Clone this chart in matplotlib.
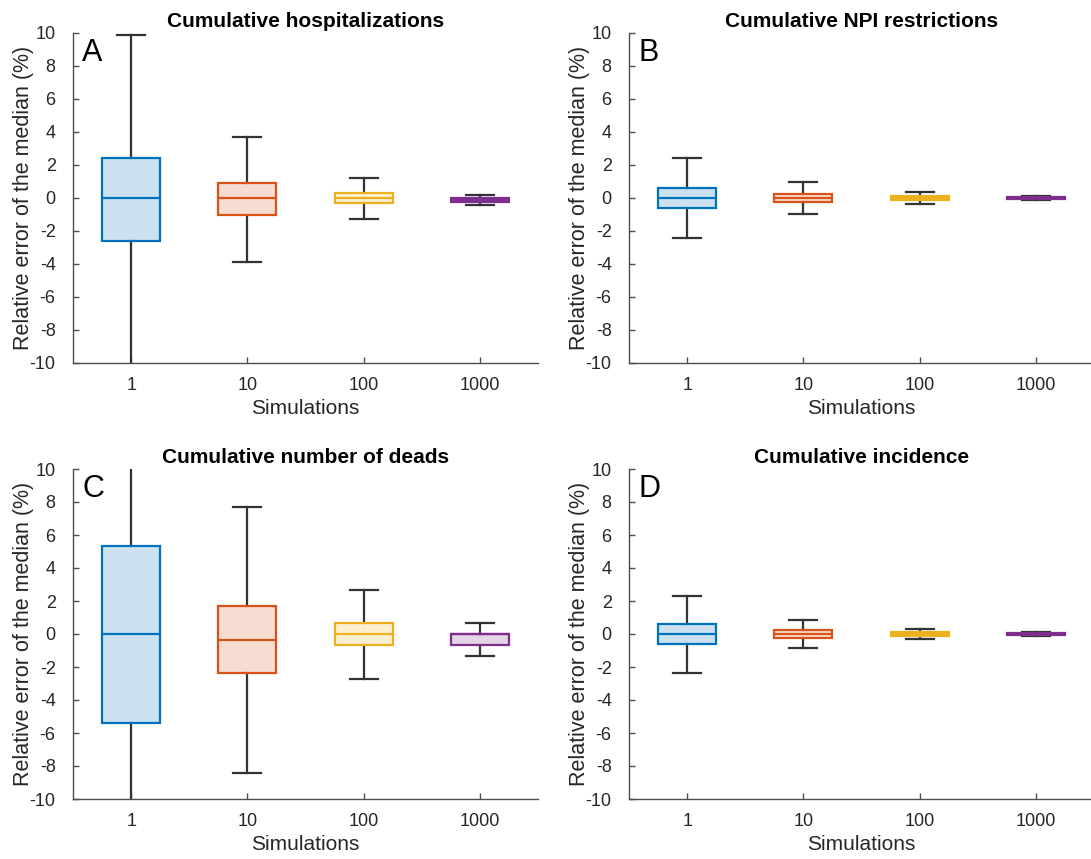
import matplotlib
matplotlib.use("Agg")
import matplotlib.pyplot as plt
import matplotlib.colors as mcolors

plt.rcParams['font.family'] = ['Liberation Sans', 'DejaVu Sans']
plt.rcParams['axes.unicode_minus'] = False

# simulations per run (x categories)
sims = ["1", "10", "100", "1000"]
colors = ["#0072BD", "#D95319", "#EDB120", "#7E2F8E"]

titles = ["Cumulative hospitalizations", "Cumulative NPI restrictions",
          "Cumulative number of deads", "Cumulative incidence"]
letters = ["A", "B", "C", "D"]

# box statistics per panel, one value per sims category
hosp_med = [0.0, 0.0, 0.0, -0.1]
hosp_q1 = [-2.63, -1.05, -0.32, -0.24]
hosp_q3 = [2.44, 0.91, 0.30, 0.02]
hosp_lo = [-10.4, -3.86, -1.25, -0.42]
hosp_hi = [9.9, 3.72, 1.19, 0.20]

npi_med = [0.0, 0.0, 0.0, 0.0]
npi_q1 = [-0.61, -0.24, -0.10, -0.05]
npi_q3 = [0.61, 0.24, 0.10, 0.05]
npi_lo = [-2.40, -0.97, -0.34, -0.12]
npi_hi = [2.44, 0.95, 0.34, 0.12]

dead_med = [0.0, -0.36, 0.0, 0.0]
dead_q1 = [-5.39, -2.36, -0.67, -0.67]
dead_q3 = [5.35, 1.68, 0.67, 0.0]
dead_lo = [-10.8, -8.40, -2.71, -1.35]
dead_hi = [10.8, 7.72, 2.69, 0.67]

inc_med = [0.0, 0.0, 0.0, 0.0]
inc_q1 = [-0.63, -0.24, -0.12, -0.05]
inc_q3 = [0.59, 0.24, 0.10, 0.05]
inc_lo = [-2.34, -0.87, -0.30, -0.10]
inc_hi = [2.32, 0.85, 0.28, 0.10]

panels = [
    (hosp_med, hosp_q1, hosp_q3, hosp_lo, hosp_hi),
    (npi_med, npi_q1, npi_q3, npi_lo, npi_hi),
    (dead_med, dead_q1, dead_q3, dead_lo, dead_hi),
    (inc_med, inc_q1, inc_q3, inc_lo, inc_hi),
]

W, H = 1091, 859
fig = plt.figure(figsize=(W / 100, H / 100), dpi=100)

# axes boxes in pixels: left, top, right, bottom
boxes_px = [(73, 33, 538, 363), (629, 33, 1094, 363),
            (73, 469, 538, 799), (629, 469, 1094, 799)]

axcol = "#4d4d4d"
txtcol = "#262626"

for i, (l, t, r, b) in enumerate(boxes_px):
    ax = fig.add_axes([l / W, (H - b) / H, (r - l) / W, (b - t) / H])
    med, q1, q3, lo, hi = panels[i]
    stats = []
    for k in range(len(sims)):
        stats.append(dict(med=med[k], q1=q1[k], q3=q3[k], whislo=lo[k], whishi=hi[k], fliers=[]))
    bp = ax.bxp(stats, positions=range(1, 5), widths=0.5, patch_artist=True,
                showfliers=False, capwidths=0.24)
    for k, c in enumerate(colors):
        bp['boxes'][k].set_facecolor(mcolors.to_rgba(c, 0.2))
        bp['boxes'][k].set_edgecolor(c)
        bp['boxes'][k].set_linewidth(1.6)
        bp['boxes'][k].set_zorder(3)
        bp['medians'][k].set_color(c)
        bp['medians'][k].set_linewidth(1.6)
        bp['medians'][k].set_zorder(4)
    for ln in bp['whiskers'] + bp['caps']:
        ln.set_color("#333333")
        ln.set_linewidth(1.6)
        ln.set_zorder(2)

    ax.set_xlim(0.5, 4.5)
    ax.set_ylim(-10, 10)
    ax.set_yticks(range(-10, 11, 2))
    ax.set_xticks(range(1, 5))
    ax.set_xticklabels(sims)
    for s in ["top", "right"]:
        ax.spines[s].set_visible(False)
    for s in ["left", "bottom"]:
        ax.spines[s].set_color(axcol)
        ax.spines[s].set_linewidth(1.0)
    ax.tick_params(direction="in", length=4, width=1.0, color=axcol,
                   labelsize=13, labelcolor=txtcol)
    ax.tick_params(axis="y", pad=12.5)
    ax.tick_params(axis="x", pad=10)
    ax.set_xlabel("Simulations", fontsize=15, color=txtcol, labelpad=4)
    ax.set_ylabel("Relative error of the median (%)", fontsize=15.5, color=txtcol, labelpad=-3)
    ax.set_title(titles[i], fontsize=15, fontweight="bold", color="black", pad=4)
    ax.text(0.02, 0.985, letters[i], transform=ax.transAxes, fontsize=22,
            va="top", ha="left", color="black")

fig.savefig("out.png", dpi=100)
